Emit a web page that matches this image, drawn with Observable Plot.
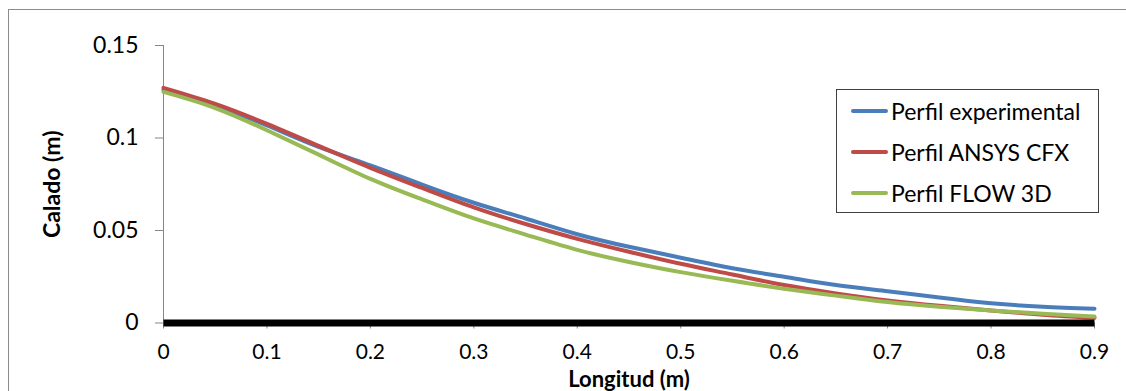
<!DOCTYPE html>
<html>
<head>
<meta charset="utf-8">
<script src="https://cdn.jsdelivr.net/npm/d3@7"></script>
<script src="https://cdn.jsdelivr.net/npm/@observablehq/plot@0.6"></script>
<style>
  html, body { margin: 0; padding: 0; background: #fff; overflow: hidden; }
  #wrap { position: relative; width: 1126px; height: 391px; font-family: Lato, "Open Sans", sans-serif; }
  #frame { position: absolute; left: 8px; top: 9px; width: 1300px; height: 600px; border: 1px solid #8c8c8c; pointer-events: none; }
  #chart { position: absolute; left: 0; top: 0; }
  #legend { position: absolute; left: 836px; top: 89px; width: 263px; height: 124px; border: 1px solid #404040; background: #fff; box-sizing: border-box; }
  .row { height: 41.3px; display: flex; align-items: center; font-size: 23px; color: #000; white-space: nowrap; }
  .sw { width: 37px; height: 4px; margin-left: 14px; margin-right: 3px; border-radius: 2px; flex: none; }
  g[aria-label="y-axis label"] text { font-weight: bold; font-size: 23px; }
  g[aria-label="x-axis label"] text { font-weight: bold; font-size: 22px; }
  g[aria-label="x-axis tick label"] text { font-size: 21px; }
</style>
</head>
<body>
<div id="wrap">
  <div id="chart"></div>
  <div id="frame"></div>
  <div id="legend"></div>
</div>
<script>
// ---- data ----
const xs = [0, 0.05, 0.1, 0.15, 0.2, 0.25, 0.3, 0.35, 0.4, 0.45, 0.5, 0.55, 0.6, 0.65, 0.7, 0.75, 0.8, 0.85, 0.9];
const experimental = [0.1260, 0.1174, 0.1068, 0.0952, 0.0852, 0.0748, 0.0650, 0.0565, 0.0480, 0.0412, 0.0353, 0.0296, 0.0250, 0.0205, 0.0172, 0.0138, 0.0107, 0.0088, 0.0077];
const ansys = [0.1271, 0.1184, 0.1076, 0.0957, 0.0839, 0.0730, 0.0625, 0.0535, 0.0455, 0.0385, 0.0320, 0.0262, 0.0205, 0.0160, 0.0122, 0.0093, 0.0068, 0.0045, 0.0028];
const flow3d = [0.1249, 0.1162, 0.1042, 0.0910, 0.0779, 0.0668, 0.0565, 0.0478, 0.0395, 0.0330, 0.0275, 0.0228, 0.0185, 0.0148, 0.0113, 0.0088, 0.0068, 0.0050, 0.0035];
const bedX = [0, 0.9];
const bedY = [0, 0];
const seriesNames = ["Perfil experimental", "Perfil ANSYS CFX", "Perfil FLOW 3D"];
const seriesColors = ["#4a7ebb", "#be4b48", "#98b954"];
const xTicks = [0, 0.1, 0.2, 0.3, 0.4, 0.5, 0.6, 0.7, 0.8, 0.9];
const xTickLabels = ["0", "0.1", "0.2", "0.3", "0.4", "0.5", "0.6", "0.7", "0.8", "0.9"];
const yTicks = [0, 0.05, 0.1, 0.15];
const yTickLabels = ["0", "0.05", "0.1", "0.15"];
const xLabel = "Longitud (m)";
const yLabel = "Calado (m)";

// ---- build table ----
const allSeries = [experimental, ansys, flow3d];
const rows = [];
allSeries.forEach((vals, s) => vals.forEach((v, i) => rows.push({ series: seriesNames[s], x: xs[i], y: v })));
const bed = bedX.map((x, i) => ({ x, y: bedY[i] }));

const chart = Plot.plot({
  width: 1126,
  height: 391,
  marginLeft: 163,
  marginRight: 32,
  marginTop: 45,
  marginBottom: 68.5,
  style: { fontFamily: "Lato, 'Open Sans', sans-serif", fontSize: "23px", color: "#000", background: "transparent", overflow: "visible" },
  x: { domain: [0, 0.9] },
  y: { domain: [0, 0.15] },
  color: { domain: seriesNames, range: seriesColors },
  marks: [
    Plot.ruleX([0], { y1: 0, y2: 0.15, stroke: "#868686", strokeWidth: 1 }),
    Plot.ruleY([0], { stroke: "#868686", strokeWidth: 1 }),
    Plot.axisY({
      ticks: yTicks, tickFormat: (d, i) => yTickLabels[i], tickSize: 8, tickPadding: 17,
      stroke: "#868686", fill: "#000",
      label: yLabel, labelAnchor: "center", labelArrow: "none", labelOffset: 120
    }),
    Plot.axisX({
      ticks: xTicks, tickFormat: (d, i) => xTickLabels[i], tickSize: 6, tickPadding: 15,
      stroke: "#868686", fill: "#000",
      label: xLabel, labelAnchor: "center", labelArrow: "none", labelOffset: 64
    }),
    Plot.line(rows, { x: "x", y: "y", z: "series", stroke: "series", strokeWidth: 4, curve: "natural", strokeLinecap: "round" }),
    Plot.line(bed, { x: "x", y: "y", stroke: "#000", strokeWidth: 7, strokeLinecap: "butt" })
  ]
});
document.getElementById("chart").appendChild(chart);

// ---- legend ----
const legend = document.getElementById("legend");
seriesNames.forEach((name, i) => {
  const row = document.createElement("div");
  row.className = "row";
  const sw = document.createElement("span");
  sw.className = "sw";
  sw.style.background = seriesColors[i];
  const t = document.createElement("span");
  t.textContent = name;
  row.appendChild(sw);
  row.appendChild(t);
  legend.appendChild(row);
});
</script>
</body>
</html>
